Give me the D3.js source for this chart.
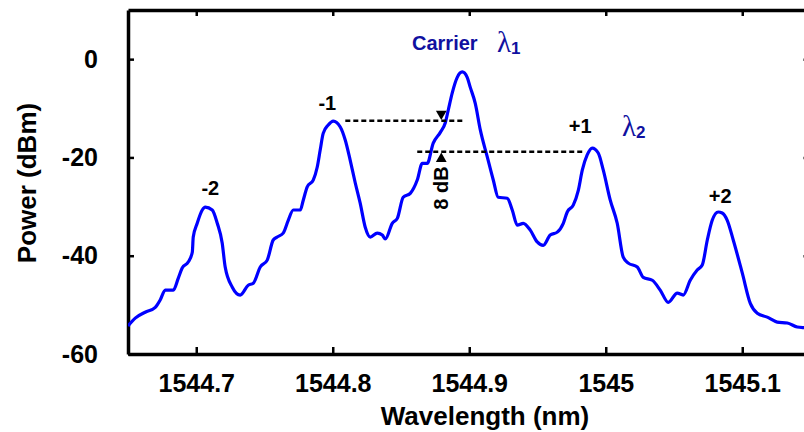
<!DOCTYPE html>
<html>
<head>
<meta charset="utf-8">
<script src="https://cdn.jsdelivr.net/npm/d3@7"></script>
<style>
  body { margin: 0; background: #fff; }
  text { font-family: Arial, "Liberation Sans", sans-serif; font-weight: bold; }
</style>
</head>
<body>
<div id="chart"></div>
<script>
// spectrum trace
var wavelength = [1544.650, 1544.6553, 1544.6626, 1544.6700, 1544.6736, 1544.6773, 1544.6832, 1544.6868, 1544.6897, 1544.6941,
  1544.6971, 1544.6978, 1544.7007, 1544.7044, 1544.7066, 1544.7117, 1544.7154, 1544.7190, 1544.7212, 1544.7264,
  1544.7322, 1544.7381, 1544.7418, 1544.7469, 1544.7520, 1544.7564, 1544.7593, 1544.7637, 1544.7674, 1544.7711,
  1544.7762, 1544.7784, 1544.7813, 1544.7857, 1544.7886, 1544.7908, 1544.7930, 1544.7967, 1544.8004, 1544.8055,
  1544.8092, 1544.8128, 1544.8165, 1544.8201, 1544.8238, 1544.8275, 1544.8326, 1544.8363, 1544.8385, 1544.8436,
  1544.8473, 1544.8516, 1544.8568, 1544.8619, 1544.8656, 1544.8692, 1544.8736, 1544.8788, 1544.8824, 1544.8846,
  1544.8875, 1544.8912, 1544.8949, 1544.8985, 1544.9007, 1544.9044, 1544.9081, 1544.9132, 1544.9176, 1544.9212,
  1544.9278, 1544.9315, 1544.9352, 1544.9396, 1544.9447, 1544.9498, 1544.9542, 1544.9593, 1544.9645, 1544.9689,
  1544.9718, 1544.9762, 1544.9799, 1544.9828, 1544.9864, 1544.9901, 1544.9945, 1544.9982, 1545.0033, 1545.0084,
  1545.0128, 1545.0165, 1545.0231, 1545.0275, 1545.0341, 1545.0399, 1545.0458, 1545.0524, 1545.0568, 1545.0619,
  1545.0670, 1545.0707, 1545.0744, 1545.0780, 1545.0824, 1545.0853, 1545.0890, 1545.0934, 1545.1000, 1545.1059,
  1545.1110, 1545.1183, 1545.1256, 1545.1330, 1545.1403, 1545.1473, 1545.1517];

var power = [-54.3, -52.7, -51.5, -50.5, -49.0, -47.0, -47.0, -44.6, -42.5, -41.3,
  -39.3, -36.2, -33.4, -30.7, -30.1, -30.7, -33.4, -37.4, -42.3, -46.4,
  -48.0, -46.0, -45.6, -42.3, -40.9, -36.8, -36.2, -35.4, -32.8, -30.7,
  -30.7, -28.7, -26.0, -24.6, -22.0, -18.5, -15.1, -13.4, -12.6, -13.8,
  -16.5, -20.6, -25.2, -29.3, -34.2, -36.2, -35.4, -35.8, -36.6, -33.4,
  -32.4, -28.1, -27.3, -24.6, -21.2, -21.2, -17.1, -14.9, -13.0, -10.4,
  -6.9, -3.7, -2.6, -3.7, -5.7, -9.0, -14.4, -19.9, -24.6, -28.1,
  -28.3, -30.7, -33.8, -33.4, -34.8, -37.2, -37.9, -35.8, -35.2, -33.4,
  -31.1, -29.7, -26.7, -22.6, -19.5, -18.1, -19.1, -22.6, -28.7, -33.4,
  -40.3, -41.5, -42.3, -44.4, -45.0, -47.0, -49.5, -47.6, -48.0, -45.0,
  -42.9, -41.9, -36.8, -32.8, -31.1, -31.3, -32.8, -36.8, -43.5, -49.7,
  -51.7, -52.5, -53.5, -53.7, -54.5, -54.7, -54.9];

var xTicks = [1544.7, 1544.8, 1544.9, 1545, 1545.1];
var xTickLabels = ["1544.7", "1544.8", "1544.9", "1545", "1545.1"];
var yTicks = [0, -20, -40, -60];
var yTickLabels = ["0", "-20", "-40", "-60"];

// sideband order labels
var orderLabels = ["-2", "-1", "+1", "+2"];
var orderWavelength = [1544.7103, 1544.796, 1544.9813, 1545.0839];
var orderPower = [-27.7, -10.4, -15.1, -29.3];

// dashed reference levels
var refPower = [-12.56, -18.86];
var refStart = [1544.8092, 1544.8619];
var refEnd = [1544.8963, 1544.985];
var arrowWavelength = 1544.8795;

var width = 804;
var height = 432;

var svg = d3
  .select("#chart")
  .append("svg")
  .attr("width", width)
  .attr("height", height);

var xScale = d3
  .scaleLinear()
  .domain([1544.65, 1545.15])
  .range([128, 810.5]);

var yScale = d3
  .scaleLinear()
  .domain([-60, 10])
  .range([354, 10]);

svg.append("defs")
  .append("clipPath")
  .attr("id", "plotClip")
  .append("rect")
  .attr("x", 128)
  .attr("y", 10)
  .attr("width", 682.5)
  .attr("height", 344);

// axes, ticks point inward on all four sides
var xBottom = d3.axisBottom(xScale).tickValues(xTicks).tickSize(-7).tickSizeOuter(0)
  .tickFormat(function(d, i) { return xTickLabels[i]; }).tickPadding(20);
var xTop = d3.axisTop(xScale).tickValues(xTicks).tickSize(-6).tickSizeOuter(0).tickFormat("");
var yLeft = d3.axisLeft(yScale).tickValues(yTicks).tickSize(-6).tickSizeOuter(0)
  .tickFormat(function(d, i) { return yTickLabels[i]; }).tickPadding(30);
var yRight = d3.axisRight(yScale).tickValues(yTicks).tickSize(-7).tickSizeOuter(0).tickFormat("");

function styleAxis(g) {
  g.select(".domain").attr("stroke", "#000").attr("stroke-width", 3.5);
  g.selectAll(".tick line").attr("stroke", "#000").attr("stroke-width", 2.5);
  g.selectAll(".tick text").attr("fill", "#000").style("font-size", "25px").style("font-weight", "bold").style("font-family", "Arial, 'Liberation Sans', sans-serif");
}

svg.append("g").attr("transform", "translate(0,354)").call(xBottom).call(styleAxis);
svg.append("g").attr("transform", "translate(0,10)").call(xTop).call(styleAxis);
svg.append("g").attr("transform", "translate(128,0)").call(yLeft).call(styleAxis);
svg.append("g").attr("transform", "translate(810.5,0)").call(yRight).call(styleAxis);

// axis titles
svg.append("text")
  .attr("x", 485)
  .attr("y", 425)
  .attr("text-anchor", "middle")
  .style("font-size", "26px")
  .text("Wavelength (nm)");

svg.append("text")
  .attr("transform", "translate(36,183)rotate(-90)")
  .attr("text-anchor", "middle")
  .style("font-size", "26px")
  .text("Power (dBm)");

// spectrum line
var line = d3.line()
  .x(function(d, i) { return xScale(wavelength[i]); })
  .y(function(d) { return yScale(d); })
  .curve(d3.curveMonotoneX);

svg.append("path")
  .datum(power)
  .attr("clip-path", "url(#plotClip)")
  .attr("fill", "none")
  .attr("stroke", "#0000ff")
  .attr("stroke-width", 3.2)
  .attr("stroke-linejoin", "round")
  .attr("d", line);

// dashed levels
svg.selectAll(".refLine")
  .data(refPower)
  .enter()
  .append("line")
  .attr("class", "refLine")
  .attr("x1", function(d, i) { return xScale(refStart[i]); })
  .attr("x2", function(d, i) { return xScale(refEnd[i]); })
  .attr("y1", function(d) { return yScale(d); })
  .attr("y2", function(d) { return yScale(d); })
  .attr("stroke", "#000")
  .attr("stroke-width", 2.5)
  .attr("stroke-dasharray", "5,3");

// arrow heads marking the 8 dB gap
var tri = d3.symbol().type(d3.symbolTriangle).size(50);
svg.append("path")
  .attr("d", tri)
  .attr("transform", "translate(" + xScale(arrowWavelength) + "," + (yScale(refPower[0]) - 7) + ")rotate(180)")
  .attr("fill", "#000");
svg.append("path")
  .attr("d", tri)
  .attr("transform", "translate(" + xScale(arrowWavelength) + "," + (yScale(refPower[1]) + 7) + ")")
  .attr("fill", "#000");

svg.append("text")
  .attr("transform", "translate(" + (xScale(arrowWavelength) + 7) + ",188)rotate(-90)")
  .attr("text-anchor", "middle")
  .style("font-size", "20px")
  .text("8 dB");

// order labels
svg.selectAll(".orderLabel")
  .data(orderLabels)
  .enter()
  .append("text")
  .attr("class", "orderLabel")
  .attr("x", function(d, i) { return xScale(orderWavelength[i]); })
  .attr("y", function(d, i) { return yScale(orderPower[i]); })
  .attr("text-anchor", "middle")
  .style("font-size", "20px")
  .text(function(d) { return d; });

// carrier and wavelength labels
var navy = "#1010a0";
svg.append("text")
  .attr("x", 412)
  .attr("y", 50)
  .attr("fill", navy)
  .style("font-size", "20px")
  .text("Carrier");

var lam1 = svg.append("text")
  .attr("x", 497)
  .attr("y", 52)
  .attr("fill", navy);
lam1.append("tspan").style("font-family", "'Liberation Serif', 'DejaVu Serif', serif").style("font-weight", "normal").style("font-size", "29px").text("λ");
lam1.append("tspan").attr("dy", 2).style("font-size", "17px").text("1");

var lam2 = svg.append("text")
  .attr("x", 622)
  .attr("y", 136)
  .attr("fill", navy);
lam2.append("tspan").style("font-family", "'Liberation Serif', 'DejaVu Serif', serif").style("font-weight", "normal").style("font-size", "29px").text("λ");
lam2.append("tspan").attr("dy", 2).style("font-size", "17px").text("2");
</script>
</body>
</html>
